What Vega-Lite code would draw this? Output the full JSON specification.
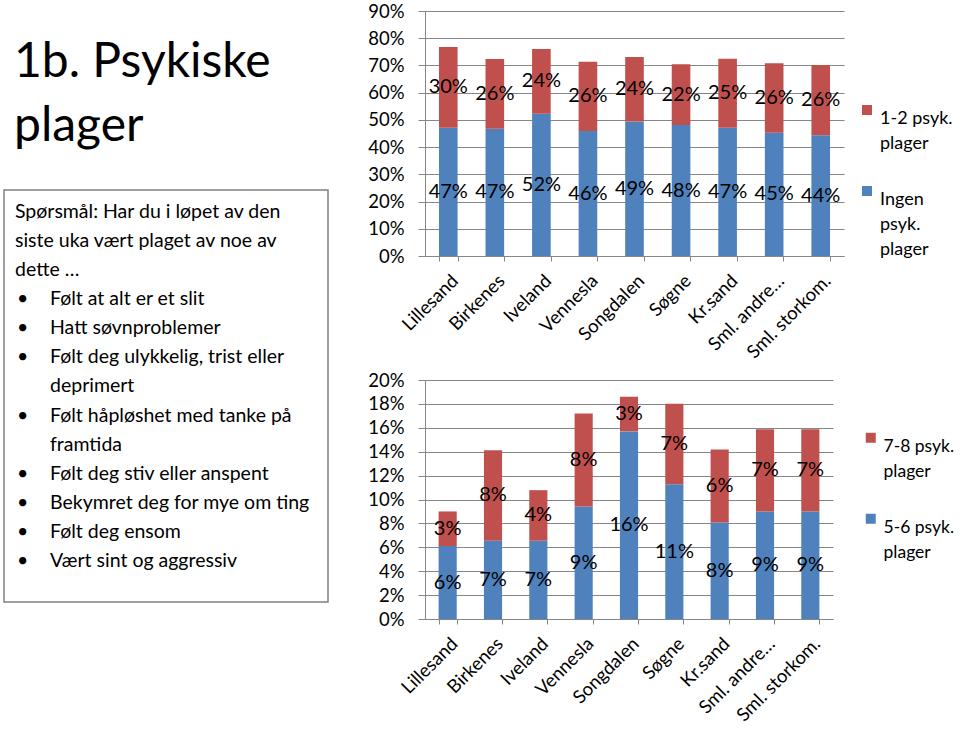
{
  "$schema": "https://vega.github.io/schema/vega-lite/v6.json",
  "padding": {"left": 3, "top": 2, "right": 0, "bottom": 0},
  "background": "white",
  "config": {
    "font": "Lato",
    "view": {"stroke": null},
    "axis": {"labelFont": "Lato", "labelColor": "#000000", "domainColor": "#868686", "tickColor": "#868686", "gridColor": "#868686", "title": null},
    "legend": {"labelFont": "Lato", "labelColor": "#000000"},
    "style": {"guide-label": {"lineHeight": 25}}
  },
  "datasets": {
    "tittel": [
      {"linje": 1, "type": "intro", "tekst": "1b. Psykiske"},
      {"linje": 2, "type": "intro", "tekst": "plager"}
    ],
    "linjer": [
      {"linje": 1, "type": "intro", "kule": false, "tekst": "Spørsmål: Har du i løpet av den"},
      {"linje": 2, "type": "intro", "kule": false, "tekst": "siste uka vært plaget av noe av"},
      {"linje": 3, "type": "intro", "kule": false, "tekst": "dette …"},
      {"linje": 4, "type": "item", "kule": true, "tekst": "Følt at alt er et slit"},
      {"linje": 5, "type": "item", "kule": true, "tekst": "Hatt søvnproblemer"},
      {"linje": 6, "type": "item", "kule": true, "tekst": "Følt deg ulykkelig, trist eller"},
      {"linje": 7, "type": "item", "kule": false, "tekst": "deprimert"},
      {"linje": 8, "type": "item", "kule": true, "tekst": "Følt håpløshet med tanke på"},
      {"linje": 9, "type": "item", "kule": false, "tekst": "framtida"},
      {"linje": 10, "type": "item", "kule": true, "tekst": "Følt deg stiv eller anspent"},
      {"linje": 11, "type": "item", "kule": true, "tekst": "Bekymret deg for mye om ting"},
      {"linje": 12, "type": "item", "kule": true, "tekst": "Følt deg ensom"},
      {"linje": 13, "type": "item", "kule": true, "tekst": "Vært sint og aggressiv"}
    ],
    "topp": [
      {"kommune": "Lillesand", "serie": "Ingen psyk. plager", "verdi": 0.471},
      {"kommune": "Lillesand", "serie": "1-2 psyk. plager", "verdi": 0.297},
      {"kommune": "Birkenes", "serie": "Ingen psyk. plager", "verdi": 0.467},
      {"kommune": "Birkenes", "serie": "1-2 psyk. plager", "verdi": 0.257},
      {"kommune": "Iveland", "serie": "Ingen psyk. plager", "verdi": 0.523},
      {"kommune": "Iveland", "serie": "1-2 psyk. plager", "verdi": 0.237},
      {"kommune": "Vennesla", "serie": "Ingen psyk. plager", "verdi": 0.459},
      {"kommune": "Vennesla", "serie": "1-2 psyk. plager", "verdi": 0.255},
      {"kommune": "Songdalen", "serie": "Ingen psyk. plager", "verdi": 0.494},
      {"kommune": "Songdalen", "serie": "1-2 psyk. plager", "verdi": 0.237},
      {"kommune": "Søgne", "serie": "Ingen psyk. plager", "verdi": 0.481},
      {"kommune": "Søgne", "serie": "1-2 psyk. plager", "verdi": 0.223},
      {"kommune": "Kr.sand", "serie": "Ingen psyk. plager", "verdi": 0.471},
      {"kommune": "Kr.sand", "serie": "1-2 psyk. plager", "verdi": 0.254},
      {"kommune": "Sml. andre…", "serie": "Ingen psyk. plager", "verdi": 0.453},
      {"kommune": "Sml. andre…", "serie": "1-2 psyk. plager", "verdi": 0.255},
      {"kommune": "Sml. storkom.", "serie": "Ingen psyk. plager", "verdi": 0.444},
      {"kommune": "Sml. storkom.", "serie": "1-2 psyk. plager", "verdi": 0.258}
    ],
    "bunn": [
      {"kommune": "Lillesand", "serie": "5-6 psyk. plager", "verdi": 0.061},
      {"kommune": "Lillesand", "serie": "7-8 psyk. plager", "verdi": 0.029},
      {"kommune": "Birkenes", "serie": "5-6 psyk. plager", "verdi": 0.0655},
      {"kommune": "Birkenes", "serie": "7-8 psyk. plager", "verdi": 0.0758},
      {"kommune": "Iveland", "serie": "5-6 psyk. plager", "verdi": 0.0655},
      {"kommune": "Iveland", "serie": "7-8 psyk. plager", "verdi": 0.0423},
      {"kommune": "Vennesla", "serie": "5-6 psyk. plager", "verdi": 0.0941},
      {"kommune": "Vennesla", "serie": "7-8 psyk. plager", "verdi": 0.0778},
      {"kommune": "Songdalen", "serie": "5-6 psyk. plager", "verdi": 0.157},
      {"kommune": "Songdalen", "serie": "7-8 psyk. plager", "verdi": 0.029},
      {"kommune": "Søgne", "serie": "5-6 psyk. plager", "verdi": 0.1128},
      {"kommune": "Søgne", "serie": "7-8 psyk. plager", "verdi": 0.0674},
      {"kommune": "Kr.sand", "serie": "5-6 psyk. plager", "verdi": 0.0808},
      {"kommune": "Kr.sand", "serie": "7-8 psyk. plager", "verdi": 0.061},
      {"kommune": "Sml. andre…", "serie": "5-6 psyk. plager", "verdi": 0.09},
      {"kommune": "Sml. andre…", "serie": "7-8 psyk. plager", "verdi": 0.0688},
      {"kommune": "Sml. storkom.", "serie": "5-6 psyk. plager", "verdi": 0.09},
      {"kommune": "Sml. storkom.", "serie": "7-8 psyk. plager", "verdi": 0.0688}
    ]
  },
  "spacing": 38,
  "resolve": {"scale": {"x": "independent", "y": "independent", "color": "independent"}, "legend": {"color": "independent"}},
  "hconcat": [
    {
      "spacing": 36,
      "resolve": {"scale": {"x": "independent", "y": "independent"}},
      "vconcat": [
        {
          "width": 324,
          "height": 142,
          "data": {"name": "tittel"},
          "mark": {"type": "text", "align": "left", "baseline": "alphabetic", "fontSize": 48, "color": "#000000", "font": "Lato"},
          "encoding": {
            "x": {"field": "type", "type": "nominal", "scale": {"type": "point", "domain": ["intro", "item"], "range": [10, 46], "padding": 0}, "axis": null},
            "y": {"field": "linje", "type": "quantitative", "scale": {"domain": [-0.031, 2.1875], "reverse": true, "nice": false, "zero": false}, "axis": null},
            "text": {"field": "tekst"}
          }
        },
        {
          "width": 324,
          "height": 412,
          "view": {"stroke": "#808080", "strokeWidth": 1.5},
          "data": {"name": "linjer"},
          "encoding": {
            "x": {"field": "type", "type": "nominal", "scale": {"type": "point", "domain": ["intro", "item"], "range": [11, 46], "padding": 0}, "axis": null},
            "y": {"field": "linje", "type": "quantitative", "scale": {"domain": [0.037, 14.204], "reverse": true, "nice": false, "zero": false}, "axis": null}
          },
          "layer": [
            {
              "mark": {"type": "text", "align": "left", "baseline": "alphabetic", "fontSize": 19.5, "color": "#000000", "font": "Lato"},
              "encoding": {"text": {"field": "tekst"}}
            },
            {
              "transform": [{"filter": "datum.kule"}],
              "mark": {"type": "text", "align": "left", "baseline": "alphabetic", "fontSize": 19.5, "color": "#000000", "font": "Lato", "text": "•", "dx": 2},
              "encoding": {"x": {"datum": "intro", "type": "nominal"}}
            }
          ]
        }
      ]
    },
    {
      "spacing": 9,
      "resolve": {"scale": {"x": "independent", "y": "independent", "color": "independent"}, "legend": {"color": "independent"}},
      "vconcat": [
        {
          "width": 419,
          "height": 245,
          "data": {"name": "topp"},
          "transform": [{"stack": "verdi", "groupby": ["kommune"], "sort": [{"field": "serie", "order": "descending"}], "as": ["v0", "v1"]}],
          "encoding": {
            "x": {
              "field": "kommune", "type": "nominal",
              "scale": {"domain": ["Lillesand", "Birkenes", "Iveland", "Vennesla", "Songdalen", "Søgne", "Kr.sand", "Sml. andre…", "Sml. storkom."], "paddingInner": 0.6, "paddingOuter": 0.3},
              "axis": {"labelAngle": -45, "labelFontSize": 18.5, "tickBand": "extent", "tickSize": 5, "labelPadding": 10, "grid": false, "labelLimit": 0}
            }
          },
          "layer": [
            {
              "mark": {"type": "bar"},
              "encoding": {
                "y": {"field": "v1", "type": "quantitative", "scale": {"domain": [0, 0.9], "nice": false}, "axis": {"values": [0, 0.1, 0.2, 0.3, 0.4, 0.5, 0.6, 0.7, 0.8, 0.9], "format": ".0%", "labelFontSize": 18.5, "labelOverlap": false, "grid": true, "tickSize": 7, "labelPadding": 14}},
                "y2": {"field": "v0"},
                "color": {
                  "field": "serie", "type": "nominal",
                  "scale": {"domain": ["1-2 psyk. plager", "Ingen psyk. plager"], "range": ["#C0504D", "#4F81BD"]},
                  "legend": {"orient": "none", "legendX": 433, "legendY": 90, "title": null, "symbolType": "square", "symbolSize": 100, "symbolStrokeWidth": 0, "labelFontSize": 18, "labelBaseline": "top", "labelOffset": 4, "rowPadding": 29, "labelLimit": 0, "padding": 0,
                    "labelExpr": "datum.label == 'Ingen psyk. plager' ? ['Ingen', 'psyk.', 'plager'] : [replace(datum.label, ' plager', ''), 'plager']"}
                }
              }
            },
            {
              "transform": [
                {"fold": ["v0", "v1"], "as": ["kant", "pos"]},
                {"aggregate": [{"op": "mean", "field": "pos", "as": "midt"}], "groupby": ["kommune", "serie", "verdi"]}
              ],
              "mark": {"type": "text", "fontSize": 20, "color": "#000000", "font": "Lato"},
              "encoding": {
                "y": {"field": "midt", "type": "quantitative", "scale": {"domain": [0, 0.9], "nice": false}, "axis": {"values": [0, 0.1, 0.2, 0.3, 0.4, 0.5, 0.6, 0.7, 0.8, 0.9], "format": ".0%", "labelFontSize": 18.5, "labelOverlap": false, "grid": true, "tickSize": 7, "labelPadding": 14}},
                "text": {"field": "verdi", "type": "quantitative", "format": ".0%"}
              }
            }
          ]
        },
        {
          "width": 408,
          "height": 239,
          "data": {"name": "bunn"},
          "transform": [{"stack": "verdi", "groupby": ["kommune"], "sort": [{"field": "serie", "order": "ascending"}], "as": ["v0", "v1"]}],
          "encoding": {
            "x": {
              "field": "kommune", "type": "nominal",
              "scale": {"domain": ["Lillesand", "Birkenes", "Iveland", "Vennesla", "Songdalen", "Søgne", "Kr.sand", "Sml. andre…", "Sml. storkom."], "paddingInner": 0.6, "paddingOuter": 0.3},
              "axis": {"labelAngle": -45, "labelFontSize": 18.5, "tickBand": "extent", "tickSize": 5, "labelPadding": 10, "grid": false, "labelLimit": 0}
            }
          },
          "layer": [
            {
              "mark": {"type": "bar"},
              "encoding": {
                "y": {"field": "v1", "type": "quantitative", "scale": {"domain": [0, 0.2], "nice": false}, "axis": {"values": [0, 0.02, 0.04, 0.06, 0.08, 0.1, 0.12, 0.14, 0.16, 0.18, 0.2], "format": ".0%", "labelFontSize": 18.5, "labelOverlap": false, "grid": true, "tickSize": 7, "labelPadding": 14}},
                "y2": {"field": "v0"},
                "color": {
                  "field": "serie", "type": "nominal",
                  "scale": {"domain": ["7-8 psyk. plager", "5-6 psyk. plager"], "range": ["#C0504D", "#4F81BD"]},
                  "legend": {"orient": "none", "legendX": 437, "legendY": 49, "title": null, "symbolType": "square", "symbolSize": 100, "symbolStrokeWidth": 0, "labelFontSize": 17.5, "labelBaseline": "top", "labelOffset": 4, "rowPadding": 29, "labelLimit": 0, "padding": 0,
                    "labelExpr": "[replace(datum.label, ' plager', ''), 'plager']"}
                }
              }
            },
            {
              "transform": [
                {"fold": ["v0", "v1"], "as": ["kant", "pos"]},
                {"aggregate": [{"op": "mean", "field": "pos", "as": "midt"}], "groupby": ["kommune", "serie", "verdi"]}
              ],
              "mark": {"type": "text", "fontSize": 20, "color": "#000000", "font": "Lato"},
              "encoding": {
                "y": {"field": "midt", "type": "quantitative", "scale": {"domain": [0, 0.2], "nice": false}, "axis": {"values": [0, 0.02, 0.04, 0.06, 0.08, 0.1, 0.12, 0.14, 0.16, 0.18, 0.2], "format": ".0%", "labelFontSize": 18.5, "labelOverlap": false, "grid": true, "tickSize": 7, "labelPadding": 14}},
                "text": {"field": "verdi", "type": "quantitative", "format": ".0%"}
              }
            }
          ]
        }
      ]
    }
  ]
}
